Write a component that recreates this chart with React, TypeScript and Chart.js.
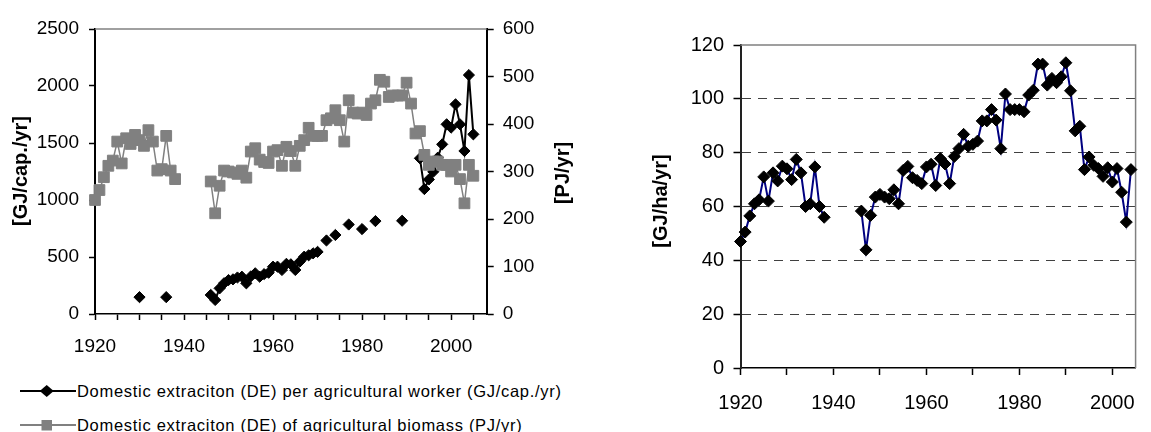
import React, { useEffect, useRef } from 'react';
import { Chart, registerables } from 'chart.js';

Chart.register(...registerables);

const FONT = "'Liberation Sans', Arial, Helvetica, sans-serif";

const YEARS = [
  1920, 1921, 1922, 1923, 1924, 1925, 1926, 1927, 1928, 1929,
  1930, 1931, 1932, 1933, 1934, 1935, 1936, 1937, 1938, 1939,
  1940, 1941, 1942, 1943, 1944, 1945, 1946, 1947, 1948, 1949,
  1950, 1951, 1952, 1953, 1954, 1955, 1956, 1957, 1958, 1959,
  1960, 1961, 1962, 1963, 1964, 1965, 1966, 1967, 1968, 1969,
  1970, 1971, 1972, 1973, 1974, 1975, 1976, 1977, 1978, 1979,
  1980, 1981, 1982, 1983, 1984, 1985, 1986, 1987, 1988, 1989,
  1990, 1991, 1992, 1993, 1994, 1995, 1996, 1997, 1998, 1999,
  2000, 2001, 2002, 2003, 2004, 2005,
];

// GJ/cap./yr (left axis of left chart)
const DE_PER_WORKER = [
  null, null, null, null, null, null, null, null, null, null,
  148, null, null, null, null, null, 148, null, null, null,
  null, null, null, null, null, null, 167, 123, 225, 270,
  298, 304, 320, 327, 269, 330, 357, 327, 350, 362,
  415, 415, 386, 440, 436, 386, 459, 503, 515, 532,
  545, null, 645, null, 693, null, null, 785, null, null,
  745, null, null, 815, null, null, null, null, null, 818,
  null, null, null, 1366, 1096, 1180, 1248, 1371, 1488, 1664,
  1635, 1839, 1664, 1430, 2096, 1576,
];

// PJ/yr (right axis of left chart)
const DE_BIOMASS = [
  240, 261, 288, 312, 323, 363, 317, 370, 358, 377,
  366, 354, 387, 363, 302, 305, 375, 302, 284, null,
  null, null, null, null, null, null, 279, 212, 270, 302,
  300, 298, 295, 302, 287, 342, 349, 325, 320, 318,
  342, 345, 312, 352, 343, 312, 354, 366, 392, 375,
  375, 375, 408, 412, 429, 408, 363, 450, 424, 422,
  424, 419, 443, 450, 493, 489, 457, 460, 460, 460,
  487, 443, 380, 385, 335, 314, 321, 321, 314, 314,
  300, 314, 284, 233, 314, 291,
];

// GJ/ha/yr (right chart)
const DE_PER_HA = [
  47, 50.5, 56.5, 61, 62.5, 71, 62, 72.5, 69.5, 75,
  74, 70, 77.5, 72.5, 60, 61, 74.7, 60, 56, null,
  null, null, null, null, null, null, 58.3, 43.9, 56.7, 63.5,
  64.5, 63.5, 62.9, 66.2, 61, 73.4, 74.9, 70.7, 69.7, 68.5,
  74.7, 75.7, 67.8, 77.8, 75.8, 68.5, 78.6, 81.5, 86.8, 82.4,
  83.1, 84.3, 91.8, 91.8, 96, 92.1, 81.5, 101.8, 96, 96,
  96, 95.2, 101.4, 103.2, 112.9, 112.9, 105.1, 107.6, 106, 108.2,
  113.4, 103, 88.1, 89.8, 73.7, 78.4, 75.3, 74.1, 71.2, 74.4,
  69.1, 74.1, 65.3, 54.2, 73.7, null,
];

const LEFT_X_TICKS = [1920, 1925, 1930, 1935, 1940, 1945, 1950, 1955, 1960, 1965, 1970, 1975, 1980, 1985, 1990, 1995, 2000, 2005];
const RIGHT_X_TICKS = [1920, 1930, 1940, 1950, 1960, 1970, 1980, 1990, 2000];
const X_LABELS = [1920, 1940, 1960, 1980, 2000];

const SERIES_WORKER = 'Domestic extraciton (DE) per agricultural worker (GJ/cap./yr)';
const SERIES_BIOMASS = 'Domestic extraciton (DE) of agricultural biomass (PJ/yr)';
const TITLE_LEFT = '[GJ/cap./yr]';
const TITLE_RIGHT_AXIS = '[PJ/yr]';
const TITLE_HA = '[GJ/ha/yr]';

const toPoints = (vals: (number | null)[]) => YEARS.map((x, i) => ({ x, y: vals[i] }));

const framePlugin = {
  id: 'frame',
  beforeDatasetsDraw(chart: any, _args: any, opts: any) {
    const { ctx, chartArea: a } = chart;
    ctx.save();
    ctx.strokeStyle = '#808080';
    ctx.lineWidth = 1.5;
    ctx.beginPath();
    ctx.moveTo(a.left, a.top);
    ctx.lineTo(a.right, a.top);
    if (opts && opts.right) {
      ctx.lineTo(a.right, a.bottom);
    }
    ctx.stroke();
    ctx.restore();
  },
};

const titlePlugin = {
  id: 'vtitles',
  afterDraw(chart: any, _args: any, opts: any) {
    const { ctx } = chart;
    (opts.items || []).forEach((it: any) => {
      ctx.save();
      ctx.translate(it.x, it.y);
      ctx.rotate(-Math.PI / 2);
      ctx.font = `bold ${it.size}px ${FONT}`;
      ctx.fillStyle = '#000';
      ctx.textAlign = 'center';
      ctx.textBaseline = 'middle';
      ctx.fillText(it.text, 0, 0);
      ctx.restore();
    });
  },
};

function LeftChart() {
  const ref = useRef<HTMLCanvasElement | null>(null);
  useEffect(() => {
    const tickFont = { family: FONT, size: 19 };
    const chart = new Chart(ref.current as HTMLCanvasElement, {
      type: 'line',
      data: {
        datasets: [
          {
            label: SERIES_WORKER,
            data: toPoints(DE_PER_WORKER),
            yAxisID: 'y',
            borderColor: '#000',
            backgroundColor: '#000',
            borderWidth: 2,
            pointStyle: 'rectRot',
            pointRadius: 5.6,
            pointBorderWidth: 1,
            pointBackgroundColor: '#000',
            pointBorderColor: '#000',
            spanGaps: false,
            clip: false,
            order: 2,
          },
          {
            label: SERIES_BIOMASS,
            data: toPoints(DE_BIOMASS),
            yAxisID: 'y1',
            borderColor: '#808080',
            backgroundColor: '#808080',
            borderWidth: 1.5,
            pointStyle: 'rect',
            pointRadius: 7.6,
            pointBorderWidth: 1,
            pointBackgroundColor: '#808080',
            pointBorderColor: '#808080',
            spanGaps: false,
            clip: false,
            order: 1,
          },
        ],
      } as any,
      options: {
        responsive: false,
        animation: false,
        devicePixelRatio: 1,
        layout: { padding: { top: 29, left: 0, right: 0, bottom: 0 } },
        plugins: {
          legend: { display: false },
          tooltip: { enabled: false },
          frame: { right: false },
          vtitles: {
            items: [
              { text: TITLE_LEFT, x: 21, y: 171, size: 20 },
              { text: TITLE_RIGHT_AXIS, x: 563, y: 173, size: 20 },
            ],
          },
        } as any,
        scales: {
          x: {
            type: 'linear',
            min: 1920,
            max: 2008,
            afterBuildTicks: (s: any) => {
              s.ticks = LEFT_X_TICKS.map((v) => ({ value: v }));
            },
            afterFit: (s: any) => {
              s.height = 56;
            },
            grid: { drawOnChartArea: false, drawTicks: true, tickLength: 6, tickColor: '#000', tickWidth: 1.5 },
            border: { display: true, color: '#000', width: 1.5 },
            ticks: {
              autoSkip: false,
              maxRotation: 0,
              padding: 15,
              color: '#000',
              font: tickFont,
              callback: (v: any) => (X_LABELS.includes(Number(v)) ? String(v) : ''),
            },
          },
          y: {
            position: 'left',
            min: 0,
            max: 2500,
            afterFit: (s: any) => {
              s.width = 95;
            },
            grid: { drawOnChartArea: false, drawTicks: true, tickLength: 6, tickColor: '#000', tickWidth: 1.5 },
            border: { display: true, color: '#000', width: 2 },
            ticks: { stepSize: 500, padding: 10, color: '#000', font: tickFont, callback: (v: any) => String(v) },
          },
          y1: {
            position: 'right',
            min: 0,
            max: 600,
            afterFit: (s: any) => {
              s.width = 93.3;
            },
            grid: { drawOnChartArea: false, drawTicks: true, tickLength: 7, tickColor: '#000', tickWidth: 1.5 },
            border: { display: true, color: '#000', width: 2 },
            ticks: { stepSize: 100, padding: 9, color: '#000', font: tickFont, callback: (v: any) => String(v) },
          },
        } as any,
      },
      plugins: [framePlugin, titlePlugin],
    });
    return () => chart.destroy();
  }, []);
  return <canvas ref={ref} width={580} height={370} style={{ position: 'absolute', left: 0, top: 0, width: 580, height: 370 }} />;
}

function RightChart() {
  const ref = useRef<HTMLCanvasElement | null>(null);
  useEffect(() => {
    const tickFont = { family: FONT, size: 20 };
    const chart = new Chart(ref.current as HTMLCanvasElement, {
      type: 'line',
      data: {
        datasets: [
          {
            label: TITLE_HA,
            data: toPoints(DE_PER_HA),
            borderColor: '#000080',
            backgroundColor: '#000',
            borderWidth: 2,
            pointStyle: 'rectRot',
            pointRadius: 6,
            pointBorderWidth: 1,
            pointBackgroundColor: '#000',
            pointBorderColor: '#000',
            spanGaps: false,
            clip: false,
          },
        ],
      } as any,
      options: {
        responsive: false,
        animation: false,
        devicePixelRatio: 1,
        layout: { padding: { top: 45, left: 0, right: 2.5, bottom: 0 } },
        plugins: {
          legend: { display: false },
          tooltip: { enabled: false },
          frame: { right: true },
          vtitles: { items: [{ text: TITLE_HA, x: 81.7, y: 201, size: 20 }] },
        } as any,
        scales: {
          x: {
            type: 'linear',
            min: 1920,
            max: 2005,
            afterBuildTicks: (s: any) => {
              s.ticks = RIGHT_X_TICKS.map((v) => ({ value: v }));
            },
            afterFit: (s: any) => {
              s.height = 64;
            },
            grid: { drawOnChartArea: false, drawTicks: true, tickLength: 7, tickColor: '#000', tickWidth: 1.5 },
            border: { display: true, color: '#000', width: 1.5 },
            ticks: {
              autoSkip: false,
              maxRotation: 0,
              padding: 16,
              color: '#000',
              font: tickFont,
              callback: (v: any) => (X_LABELS.includes(Number(v)) ? String(v) : ''),
            },
          },
          y: {
            position: 'left',
            min: 0,
            max: 120,
            afterFit: (s: any) => {
              s.width = 160.5;
            },
            grid: {
              drawOnChartArea: true,
              drawTicks: true,
              tickLength: 7,
              tickColor: '#000',
              tickWidth: 1.5,
              lineWidth: 1,
              color: (c: any) => (c.tick && (c.tick.value === 0 || c.tick.value === 120) ? 'rgba(0,0,0,0)' : '#404040'),
            },
            border: { display: true, color: '#222', width: 2, dash: [9, 7] },
            ticks: { stepSize: 20, padding: 9.5, color: '#000', font: tickFont, callback: (v: any) => String(v) },
          },
        } as any,
      },
      plugins: [framePlugin, titlePlugin],
    });
    return () => chart.destroy();
  }, []);
  return <canvas ref={ref} width={571} height={432} style={{ position: 'absolute', left: 580, top: 0, width: 571, height: 432 }} />;
}

function LegendRow({ top, kind, text }: { top: number; kind: 'diamond' | 'square'; text: string }) {
  const color = kind === 'diamond' ? '#000' : '#808080';
  return (
    <div style={{ position: 'absolute', left: 0, top: top - 11, height: 22, width: 580 }}>
      <svg width={60} height={22} style={{ position: 'absolute', left: 18, top: 0 }}>
        <line x1={2} y1={11} x2={58} y2={11} stroke={color} strokeWidth={2} />
        {kind === 'diamond' ? (
          <polygon points="28.7,5 35.7,11 28.7,17 21.7,11" fill="#000" />
        ) : (
          <rect x={23.5} y={6} width={10.5} height={10.5} fill="#808080" />
        )}
      </svg>
      <span
        style={{
          position: 'absolute',
          left: 77,
          top: 0,
          lineHeight: '22px',
          fontFamily: FONT,
          fontSize: 16.5,
          letterSpacing: '0.7px',
          color: '#000',
          whiteSpace: 'nowrap',
        }}
      >
        {text}
      </span>
    </div>
  );
}

export default function App() {
  return (
    <div style={{ position: 'fixed', left: 0, top: 0, width: 1151, height: 432, background: '#fff', overflow: 'hidden' }}>
      <LeftChart />
      <RightChart />
      <LegendRow top={391} kind="diamond" text={SERIES_WORKER} />
      <LegendRow top={425} kind="square" text={SERIES_BIOMASS} />
    </div>
  );
}
